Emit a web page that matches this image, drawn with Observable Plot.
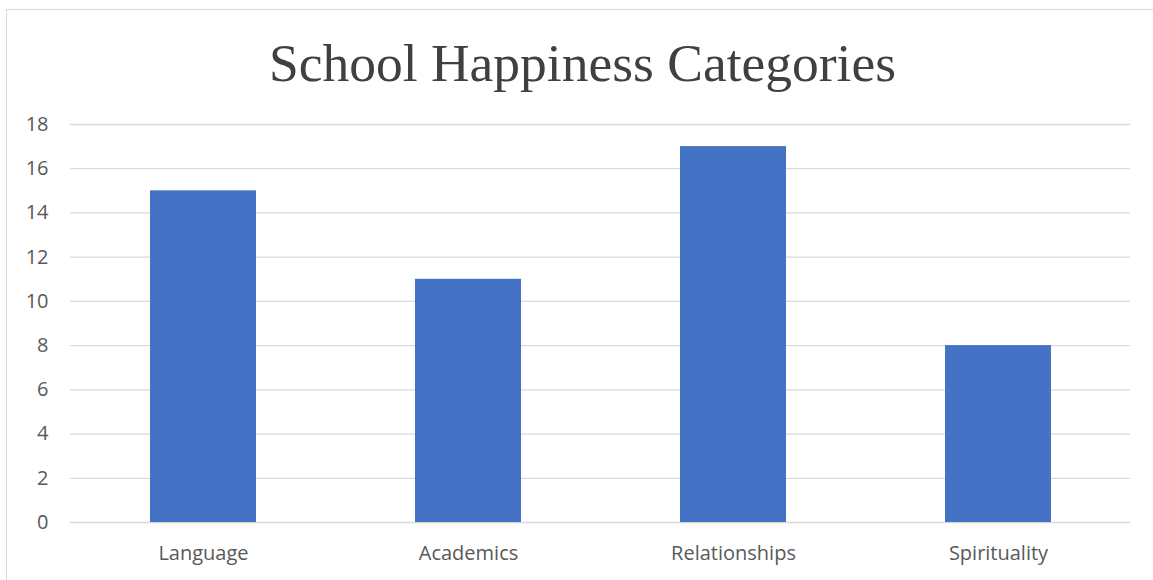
<!DOCTYPE html>
<html>
<head>
<meta charset="utf-8">
<script src="https://cdn.jsdelivr.net/npm/d3@7"></script>
<script src="https://cdn.jsdelivr.net/npm/@observablehq/plot@0.6"></script>
<style>
  html, body { margin: 0; padding: 0; background: #fff; overflow: hidden; }
  #wrap { position: relative; width: 1153px; height: 580px; }
  #frame { position: absolute; left: 6px; top: 9px; width: 1200px; height: 700px; border: 1px solid #d9d9d9; box-sizing: border-box; }
  #title { position: absolute; left: 6px; width: 1153px; top: 33px; text-align: center;
           font-family: "Liberation Serif", "Times New Roman", serif; font-size: 53.5px; line-height: 60px; color: #404040; }
  #chart { position: absolute; left: 0; top: 0; }
  #chart svg text { font-size: 20px; }
</style>
</head>
<body>
<div id="wrap">
  <div id="frame"></div>
  <div id="chart"></div>
  <div id="title">School Happiness Categories</div>
</div>
<script>
const categories = ["Language", "Academics", "Relationships", "Spirituality"];
const values = [15, 11, 17, 8];
const yTicks = [0, 2, 4, 6, 8, 10, 12, 14, 16, 18];

const data = categories.map((c, i) => ({category: c, value: values[i]}));

const chart = Plot.plot({
  width: 1153,
  height: 580,
  marginLeft: 70,
  marginRight: 23,
  marginTop: 124,
  marginBottom: 58,
  style: {fontFamily: "'Open Sans', sans-serif", fontSize: "20px", color: "#595959", background: "transparent"},
  x: {domain: categories, paddingInner: 0.6, paddingOuter: 0.3, label: null},
  y: {domain: [0, 18], ticks: yTicks, label: null},
  marks: [
    Plot.ruleY(yTicks, {stroke: "#d9d9d9", strokeWidth: 1.3}),
    Plot.barY(data, {x: "category", y: "value", fill: "#4472C4"}),
    Plot.axisY({ticks: yTicks, tickSize: 0, tickPadding: 22, label: null, fill: "#595959", fontSize: 20}),
    Plot.axisX({tickSize: 0, tickPadding: 23, label: null, fill: "#595959", fontSize: 20})
  ]
});
document.getElementById("chart").appendChild(chart);
</script>
</body>
</html>
